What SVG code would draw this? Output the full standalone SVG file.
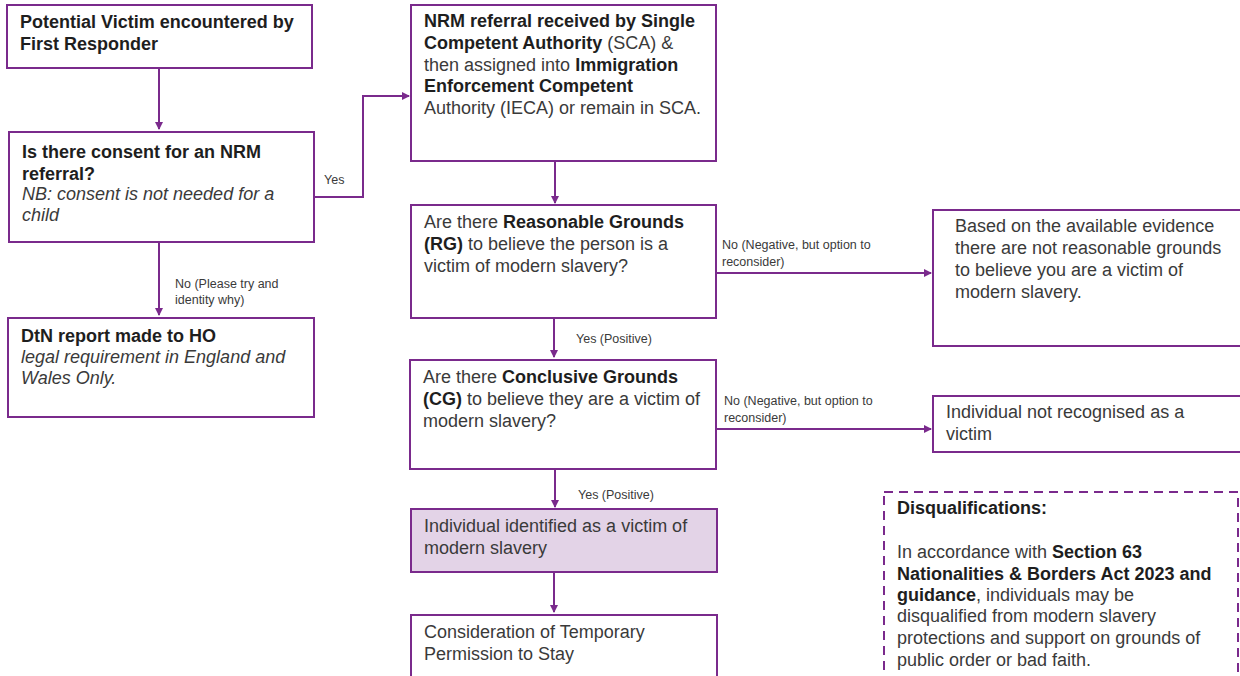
<svg xmlns="http://www.w3.org/2000/svg" width="1240" height="676" viewBox="0 0 1240 676">
<style>
.box{fill:#fff;stroke:#7a2a8c;stroke-width:2}
.hl{fill:#e3d3e7}
.dash{fill:#fff;stroke:#7a2a8c;stroke-width:2;stroke-dasharray:9,6}
.t{font-family:"Liberation Sans",Arial,sans-serif;font-size:18px;fill:#3a3a3a}
.b{font-weight:bold;fill:#1e1e1e}
.i{font-style:italic}
.lbl{font-family:"Liberation Sans",Arial,sans-serif;font-size:12.5px;fill:#3a3a3a}
.c{fill:none;stroke:#7a2a8c;stroke-width:2}
</style>
<defs>
<marker id="ah" markerWidth="8" markerHeight="8" refX="7" refY="4" orient="auto" markerUnits="userSpaceOnUse">
<path d="M0,0 L8,4 L0,8 Z" fill="#7a2a8c"/>
</marker>
</defs>
<rect width="1240" height="676" fill="#fff"/>
<g id="connectors">
<path class="c" d="M159,68 V129" marker-end="url(#ah)"/>
<path class="c" d="M314,197 H363 V96 H409" marker-end="url(#ah)"/>
<text class="lbl" x="324" y="184">Yes</text>
<path class="c" d="M159,242 V315" marker-end="url(#ah)"/>
<text class="lbl" x="175" y="288">No (Please try and</text>
<text class="lbl" x="175" y="304">identity why)</text>
<path class="c" d="M555,161 V203" marker-end="url(#ah)"/>
<path class="c" d="M716,273 H931" marker-end="url(#ah)"/>
<text class="lbl" x="722" y="249">No (Negative, but option to</text>
<text class="lbl" x="722" y="266">reconsider)</text>
<path class="c" d="M554,318 V357" marker-end="url(#ah)"/>
<text class="lbl" x="576" y="343">Yes (Positive)</text>
<path class="c" d="M716,429 H931" marker-end="url(#ah)"/>
<text class="lbl" x="724" y="405">No (Negative, but option to</text>
<text class="lbl" x="724" y="422">reconsider)</text>
<path class="c" d="M555,469 V507" marker-end="url(#ah)"/>
<text class="lbl" x="578" y="499">Yes (Positive)</text>
<path class="c" d="M554,572 V612" marker-end="url(#ah)"/>
</g>
<g id="n1">
<rect class="box" x="7" y="5" width="305" height="63"/>
<text class="t b" x="20" y="28">Potential Victim encountered by</text>
<text class="t b" x="20" y="50">First Responder</text>
</g>
<g id="n2">
<rect class="box" x="9" y="132" width="305" height="110"/>
<text class="t b" x="22" y="158">Is there consent for an NRM</text>
<text class="t b" x="22" y="180">referral?</text>
<text class="t i" x="22" y="200">NB: consent is not needed for a</text>
<text class="t i" x="22" y="221">child</text>
</g>
<g id="n3">
<rect class="box" x="8" y="318" width="306" height="99"/>
<text class="t b" x="21" y="342">DtN report made to HO</text>
<text class="t i" x="21" y="363">legal requirement in England and</text>
<text class="t i" x="21" y="384">Wales Only.</text>
</g>
<g id="n4">
<rect class="box" x="411" y="5" width="305" height="156"/>
<text class="t" x="424" y="27"><tspan class="b">NRM referral received by Single</tspan></text>
<text class="t" x="424" y="49"><tspan class="b">Competent Authority</tspan> (SCA) &amp;</text>
<text class="t" x="424" y="71">then assigned into <tspan class="b">Immigration</tspan></text>
<text class="t" x="424" y="92"><tspan class="b">Enforcement Competent</tspan></text>
<text class="t" x="424" y="114">Authority (IECA) or remain in SCA.</text>
</g>
<g id="n5">
<rect class="box" x="411" y="205" width="305" height="113"/>
<text class="t" x="424" y="228">Are there <tspan class="b">Reasonable Grounds</tspan></text>
<text class="t" x="424" y="250"><tspan class="b">(RG)</tspan> to believe the person is a</text>
<text class="t" x="424" y="272">victim of modern slavery?</text>
</g>
<g id="n6">
<rect class="box" x="933" y="210" width="310" height="136"/>
<text class="t" x="955" y="232">Based on the available evidence</text>
<text class="t" x="955" y="254">there are not reasonable grounds</text>
<text class="t" x="955" y="276">to believe you are a victim of</text>
<text class="t" x="955" y="298">modern slavery.</text>
</g>
<g id="n7">
<rect class="box" x="410" y="360" width="306" height="109"/>
<text class="t" x="423" y="383">Are there <tspan class="b">Conclusive Grounds</tspan></text>
<text class="t" x="423" y="405"><tspan class="b">(CG)</tspan> to believe they are a victim of</text>
<text class="t" x="423" y="427">modern slavery?</text>
</g>
<g id="n8">
<rect class="box" x="933" y="396" width="310" height="56"/>
<text class="t" x="946" y="418">Individual not recognised as a</text>
<text class="t" x="946" y="440">victim</text>
</g>
<g id="n9">
<rect class="box hl" x="411" y="509" width="306" height="63"/>
<text class="t" x="424" y="532">Individual identified as a victim of</text>
<text class="t" x="424" y="554">modern slavery</text>
</g>
<g id="n10">
<rect class="box" x="411" y="615" width="306" height="70"/>
<text class="t" x="424" y="638">Consideration of Temporary</text>
<text class="t" x="424" y="660">Permission to Stay</text>
</g>
<g id="n11">
<rect class="dash" x="884" y="492" width="354" height="200"/>
<text class="t b" x="897" y="514">Disqualifications:</text>
<text class="t" x="897" y="558">In accordance with <tspan class="b">Section 63</tspan></text>
<text class="t b" x="897" y="580">Nationalities &amp; Borders Act 2023 and</text>
<text class="t" x="897" y="601"><tspan class="b">guidance</tspan>, individuals may be</text>
<text class="t" x="897" y="622">disqualified from modern slavery</text>
<text class="t" x="897" y="644">protections and support on grounds of</text>
<text class="t" x="897" y="666">public order or bad faith.</text>
</g>
</svg>
